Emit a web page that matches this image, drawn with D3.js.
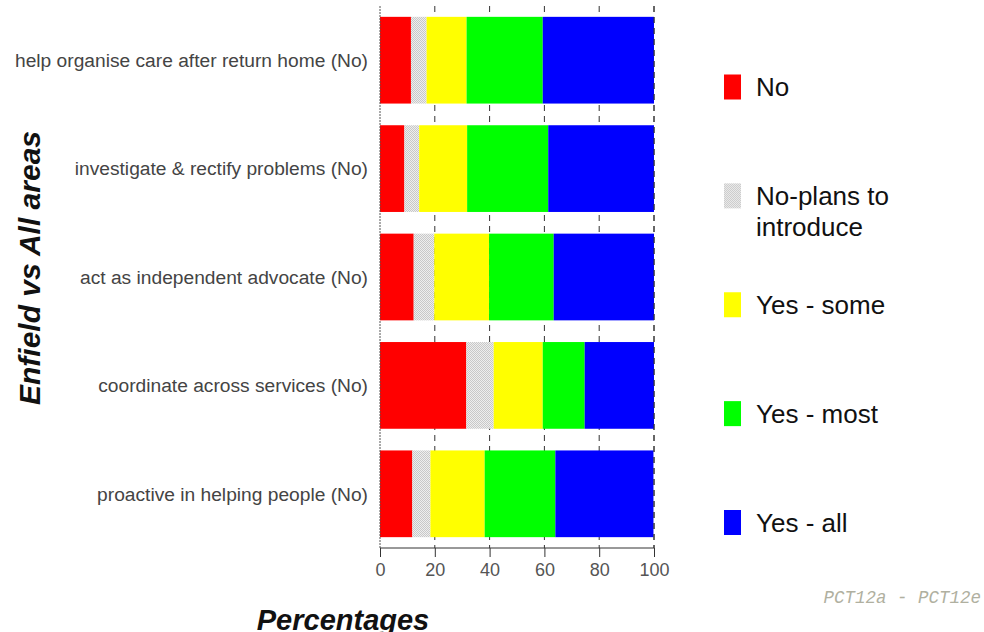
<!DOCTYPE html>
<html>
<head>
<meta charset="utf-8">
<style>
    body { margin: 0; background: #fff; }
    svg { display: block; font-family: "Liberation Sans", Arial, sans-serif; }
</style>
</head>
<body>
<svg id="chart" width="984" height="632"></svg>
<script src="https://d3js.org/d3.v7.min.js"></script>
<script>
    // questions, top to bottom
    var categories = [
        'help organise care after return home (No)',
        'investigate & rectify problems (No)',
        'act as independent advocate (No)',
        'coordinate across services (No)',
        'proactive in helping people (No)'
    ];
    var keys = ['No', 'No-plans to introduce', 'Yes - some', 'Yes - most', 'Yes - all'];
    // percentages per answer, same order as categories
    var noVals       = [11.3,  8.9, 12.3, 31.5, 11.8];
    var noPlansVals  = [ 5.7,  5.4,  7.5, 10.0,  6.6];
    var someVals     = [14.6, 17.5, 20.0, 17.9, 19.8];
    var mostVals     = [27.8, 29.6, 23.6, 15.3, 25.8];
    var allVals      = [40.6, 38.6, 36.6, 25.3, 35.8];
    var xTicks = [0, 20, 40, 60, 80, 100];

    var colours = ['#ff0000', 'url(#greyDots)', '#ffff00', '#00ff00', '#0000ff'];

    var rows = categories.map(function(c, i) {
        return {
            cat: c,
            'No': noVals[i],
            'No-plans to introduce': noPlansVals[i],
            'Yes - some': someVals[i],
            'Yes - most': mostVals[i],
            'Yes - all': allVals[i]
        };
    });

    var svg = d3.select('#chart');
    var margin = {top: 6, left: 380, right: 330, bottom: 84};
    var plotW = 984 - margin.left - margin.right,
        plotH = 632 - margin.top - margin.bottom;

    // dithered grey like the original
    var pat = svg.append('defs').append('pattern')
        .attr('id', 'greyDots')
        .attr('width', 2).attr('height', 2)
        .attr('patternUnits', 'userSpaceOnUse');
    pat.append('rect').attr('width', 2).attr('height', 2).attr('fill', '#eeeeee');
    pat.append('rect').attr('width', 1).attr('height', 1).attr('fill', '#c8c8c8');
    pat.append('rect').attr('x', 1).attr('y', 1).attr('width', 1).attr('height', 1).attr('fill', '#c8c8c8');

    var xScale = d3.scaleLinear().domain([0, 100]).range([0, plotW]);
    var yScale = d3.scaleBand().domain(categories).range([0, plotH])
        .paddingInner(0.2).paddingOuter(0.1);

    var g = svg.append('g')
        .attr('transform', 'translate(' + margin.left + ',' + margin.top + ')');

    // dashed grid
    g.selectAll('.grid').data(xTicks.slice(1)).enter().append('line')
        .attr('class', 'grid')
        .attr('x1', function(d) { return xScale(d); })
        .attr('x2', function(d) { return xScale(d); })
        .attr('y1', 0).attr('y2', plotH)
        .attr('stroke', '#333').attr('stroke-dasharray', '6,5');

    var stack = d3.stack().keys(keys)(rows);

    g.selectAll('.layer').data(stack).enter().append('g')
        .attr('class', 'layer')
        .attr('fill', function(d, i) { return colours[i]; })
        .selectAll('rect').data(function(d) { return d; }).enter().append('rect')
        .attr('x', function(d) { return xScale(d[0]); })
        .attr('width', function(d) { return xScale(d[1]) - xScale(d[0]); })
        .attr('y', function(d) { return yScale(d.data.cat); })
        .attr('height', yScale.bandwidth());

    // right edge dashed on top of bars
    g.append('line')
        .attr('x1', xScale(100)).attr('x2', xScale(100))
        .attr('y1', 0).attr('y2', plotH)
        .attr('stroke', '#333').attr('stroke-dasharray', '6,5');

    // left axis line
    g.append('line')
        .attr('x1', 0).attr('x2', 0).attr('y1', 0).attr('y2', plotH)
        .attr('stroke', '#555').attr('stroke-dasharray', '2,1');

    // category labels
    g.selectAll('.cat').data(categories).enter().append('text')
        .attr('class', 'cat')
        .attr('x', -12)
        .attr('y', function(d) { return yScale(d) + yScale.bandwidth() / 2; })
        .attr('dy', '0.35em')
        .attr('text-anchor', 'end')
        .attr('font-size', 19.2)
        .attr('fill', '#444')
        .text(function(d) { return d; });

    // x axis
    var xAxis = d3.axisBottom(xScale).tickValues(xTicks).tickSize(9).tickPadding(6);
    var ax = g.append('g').attr('transform', 'translate(0,' + plotH + ')').call(xAxis);
    ax.select('.domain').attr('stroke', '#333').attr('d', 'M0,0H' + plotW);
    ax.selectAll('.tick line').attr('stroke', '#333');
    ax.selectAll('.tick text')
        .attr('font-size', 18)
        .attr('font-family', '"Liberation Sans", Arial, sans-serif')
        .attr('fill', '#555');

    // axis titles
    svg.append('text')
        .attr('transform', 'translate(40,268) rotate(-90)')
        .attr('text-anchor', 'middle')
        .attr('font-size', 30)
        .attr('font-weight', 'bold')
        .attr('font-style', 'italic')
        .attr('fill', '#111')
        .text('Enfield vs All areas');

    svg.append('text')
        .attr('x', 343).attr('y', 630)
        .attr('text-anchor', 'middle')
        .attr('font-size', 29)
        .attr('font-weight', 'bold')
        .attr('font-style', 'italic')
        .attr('fill', '#111')
        .text('Percentages');

    // legend
    var legY = d3.scalePoint().domain(keys).range([87, 522.5]);
    var leg = svg.selectAll('.leg').data(keys).enter().append('g')
        .attr('class', 'leg')
        .attr('transform', function(d) { return 'translate(724,' + legY(d) + ')'; });
    leg.append('rect')
        .attr('x', 0).attr('y', -12.5)
        .attr('width', 17).attr('height', 25)
        .attr('fill', function(d, i) { return colours[i]; });
    leg.append('text')
        .attr('x', 32)
        .attr('font-size', 26)
        .attr('fill', '#111')
        .selectAll('tspan')
        .data(function(d) { return d === 'No-plans to introduce' ? ['No-plans to', 'introduce'] : [d]; })
        .enter().append('tspan')
        .attr('x', 32)
        .attr('y', function(d, i) { return i * 31; })
        .attr('dy', '0.36em')
        .text(function(d) { return d; });

    // footer
    svg.append('text')
        .attr('x', 981).attr('y', 603)
        .attr('text-anchor', 'end')
        .attr('font-family', '"Liberation Mono", "DejaVu Sans Mono", monospace')
        .attr('font-style', 'italic')
        .attr('font-size', 17.5)
        .attr('fill', '#b0b0a0')
        .text('PCT12a - PCT12e');
</script>
</body>
</html>
